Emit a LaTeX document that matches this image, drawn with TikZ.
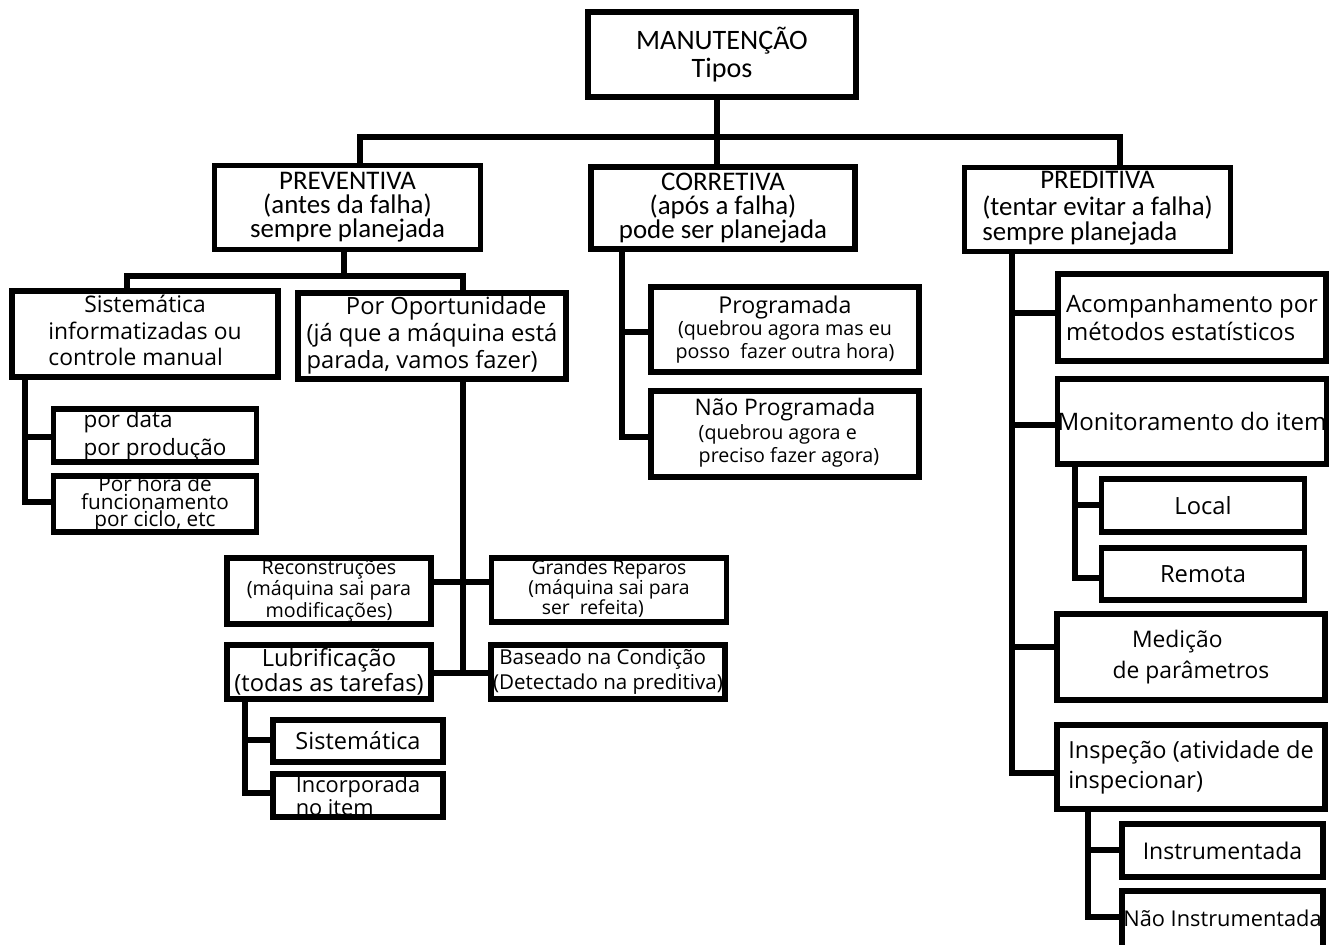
\documentclass[tikz,border=0pt]{standalone}
\usepackage{fontspec}
\setmainfont{Open Sans}
\newfontfamily\calfont{Carlito}
\newcommand\fs[2]{\fontsize{#1}{#2}\selectfont}
\tikzset{
  bx/.style={draw, line width=3pt, inner sep=0pt, align=center, fill=white, text=black},
  ln/.style={line width=2.9pt},
  wh/.style 2 args={minimum width=#1*0.02cm, minimum height=#2*0.02cm},
  top/.style={font={\calfont\fs{15.3}{13.6}}},
}
\begin{document}
\begin{tikzpicture}[x=0.02cm, y=-0.02cm]
\useasboundingbox (0,0) rectangle (1338,944);
\clip (0,0) rectangle (1338,944);
\fill[white] (0,0) rectangle (1338,944);

% ---- boxes ----
\node[bx, wh={268}{85}, font={\calfont\fs{16}{15.5}}] (man) at (722,54.5) {MANUTENÇÃO\\Tipos};
\node[bx, wh={266}{84}, top] (prev) at (347.5,207.5) {PREVENTIVA\\(antes da falha)\\sempre planejada};
\node[bx, wh={264}{82}, top] (corr) at (723,208) {CORRETIVA\\(após a falha)\\pode ser planejada};
\node[bx, wh={266}{84}, top] (pred) at (1097.5,209.5) {\begin{tabular}{@{}l@{}}\multicolumn{1}{@{}c@{}}{PREDITIVA}\\(tentar evitar a falha)\\sempre planejada\end{tabular}};

\node[bx, wh={266}{86}, font={\fs{13}{15}}] (sis) at (145,334) {\begin{tabular}{@{}l@{}}\multicolumn{1}{@{}c@{}}{Sistemática}\\informatizadas ou\\controle manual\end{tabular}};
\node[bx, wh={268}{86}, font={\fs{13.5}{15.3}}] (opo) at (432,336) {\begin{tabular}{@{}l@{}}\multicolumn{1}{@{}c@{}}{\hspace*{1.2em}Por Oportunidade}\\(já que a máquina está\\parada, vamos fazer)\end{tabular}};

\node[bx, wh={203}{53}, font={\fs{12.8}{16}}, align=left] (pdata) at (155,435.5) {por data\\por produção};
\node[bx, wh={203}{54}, font={\fs{11.8}{10}}] (phora) at (155,504) {Por hora de\\funcionamento\\por ciclo, etc};

\node[bx, wh={204}{66}, font={\fs{11.2}{10.5}}] (rec) at (329,591) {Reconstruções\\(máquina sai para\\modificações)};
\node[bx, wh={235}{64}, font={\fs{11}{10.5}}] (gra) at (609,590) {\begin{tabular}{@{}l@{}}\multicolumn{1}{@{}c@{}}{Grandes Reparos}\\(máquina sai para\\\hspace*{0.7em}ser\ \ refeita)\end{tabular}};
\node[bx, wh={204}{54}, font={\fs{13.5}{14.2}}] (lub) at (329,672) {Lubrificação\\(todas as tarefas)};
\node[bx, wh={234}{54}, font={\fs{11.7}{14.2}}, align=left] (bas) at (608,672) {\hspace*{0.3em}Baseado na Condição\\(Detectado na preditiva)};
\node[bx, wh={170}{42}, font={\fs{13.4}{15}}] (lsis) at (358,741) {Sistemática};
\node[bx, wh={170}{43}, font={\fs{12.4}{11.4}}, align=left] (linc) at (358,795.5) {Incorporada\\no item};

\node[bx, wh={268}{85}, font={\fs{11.2}{13}}] (prog) at (785,329.5) {{\fs{13.2}{13}Programada}\\(quebrou agora mas eu\\posso\ \ fazer outra hora)};
\node[bx, wh={268}{86}, font={\fs{11.2}{13.5}}] (nprog) at (785,434) {\begin{tabular}{@{}l@{}}\multicolumn{1}{@{}c@{}}{\fs{13}{13.5}Não Programada}\\\hspace*{0.4em}(quebrou agora e\\\hspace*{0.4em}preciso fazer agora)\end{tabular}};

\node[bx, wh={268}{87}, font={\fs{13.6}{16.4}}, align=left] (acomp) at (1192,317.5) {Acompanhamento por\\métodos estatísticos};
\node[bx, wh={268}{85}, font={\fs{13.7}{16}}] (mon) at (1192,421.5) {Monitoramento do item};
\node[bx, wh={203}{53}, font={\fs{13.5}{16}}] (local) at (1203,505.5) {Local};
\node[bx, wh={203}{52}, font={\fs{13.5}{16}}] (rem) at (1203,574) {Remota};
\node[bx, wh={268}{86}, font={\fs{13}{17.6}}] (med) at (1191,657) {\hspace*{-1.2em}Medição\\de parâmetros};
\node[bx, wh={268}{84}, font={\fs{13.4}{17}}, align=left] (insp) at (1191,767) {Inspeção (atividade de\\inspecionar)};
\node[bx, wh={201}{53}, font={\fs{13.1}{16}}] (instr) at (1222.5,850.5) {Instrumentada};
\node[bx, wh={201}{60}, font={\fs{12.4}{16}}] (ninstr) at (1222.5,921) {\raisebox{3pt}{Não Instrumentada}};

% ---- junction coordinates ----
\coordinate (bm) at (717,137);
\coordinate (bl) at (360,137);
\coordinate (br) at (1120,137);
\coordinate (pv) at (344,276);
\coordinate (pbl) at (127,276);
\coordinate (pbr) at (463,276);
\coordinate (s1) at (25,437);
\coordinate (s2) at (25,502);
\coordinate (o1) at (463,582);
\coordinate (o2) at (463,673);
\coordinate (l1) at (245,740);
\coordinate (l2) at (245,793);
\coordinate (c1) at (622,332);
\coordinate (c2) at (622,437);
\coordinate (p1) at (1012,313);
\coordinate (p2) at (1012,425);
\coordinate (p3) at (1012,647);
\coordinate (p4) at (1012,773);
\coordinate (m1) at (1075,505);
\coordinate (m2) at (1075,578);
\coordinate (i1) at (1088,850);
\coordinate (i2) at (1088,917);

% ---- connectors ----
\draw[ln] (bm |- man.south) -- (bm |- corr.north);
\draw[ln] (bl |- prev.north) -- (bl) -- (br) -- (br |- pred.north);
\draw[ln] (pv |- prev.south) -- (pv);
\draw[ln] (pbl |- sis.north) -- (pbl) -- (pbr) -- (pbr |- opo.north);
\draw[ln] (s2 |- sis.south) -- (s2) -- (s2 -| phora.west);
\draw[ln] (s1) -- (s1 -| pdata.west);
\draw[ln] (o2 |- opo.south) -- (o2);
\draw[ln] (o1 -| rec.east) -- (o1 -| gra.west);
\draw[ln] (o2 -| lub.east) -- (o2 -| bas.west);
\draw[ln] (l2 |- lub.south) -- (l2) -- (l2 -| linc.west);
\draw[ln] (l1) -- (l1 -| lsis.west);
\draw[ln] (c2 |- corr.south) -- (c2) -- (c2 -| nprog.west);
\draw[ln] (c1) -- (c1 -| prog.west);
\draw[ln] (p4 |- pred.south) -- (p4) -- (p4 -| insp.west);
\draw[ln] (p1) -- (p1 -| acomp.west);
\draw[ln] (p2) -- (p2 -| mon.west);
\draw[ln] (p3) -- (p3 -| med.west);
\draw[ln] (m2 |- mon.south) -- (m2) -- (m2 -| rem.west);
\draw[ln] (m1) -- (m1 -| local.west);
\draw[ln] (i2 |- insp.south) -- (i2) -- (i2 -| ninstr.west);
\draw[ln] (i1) -- (i1 -| instr.west);
\end{tikzpicture}
\end{document}
